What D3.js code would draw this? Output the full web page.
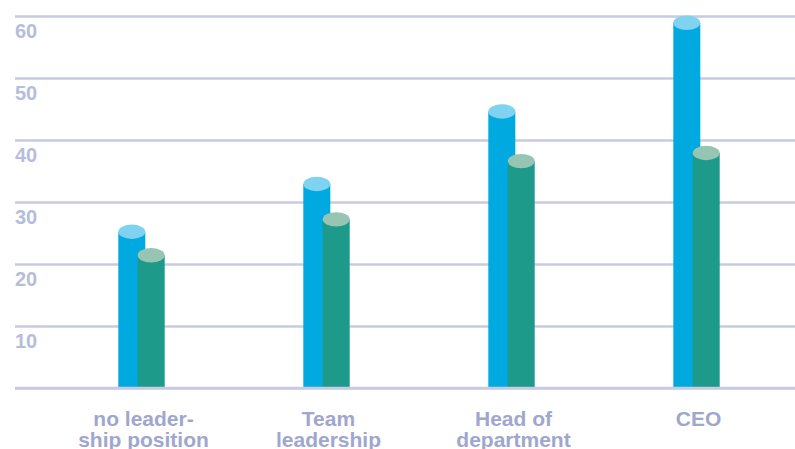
<!DOCTYPE html>
<html>
<head>
<meta charset="utf-8">
<script src="https://cdn.jsdelivr.net/npm/d3@7"></script>
<style>
  html, body { margin: 0; padding: 0; background: #fff; }
  svg { display: block; }
</style>
</head>
<body>
<svg id="chart" width="795" height="449"></svg>
<script>
// Leadership level categories (label lines)
const categories = ["no leadership position", "Team leadership", "Head of department", "CEO"];
const categoryLines = [["no leader-", "ship position"], ["Team", "leadership"], ["Head of", "department"], ["CEO"]];
// Two series per category
const seriesA = [25.2, 32.9, 44.6, 58.9];
const seriesB = [21.4, 27.2, 36.6, 37.9];
const tickValues = [0, 10, 20, 30, 40, 50, 60];
const tickLabels = ["", "10", "20", "30", "40", "50", "60"];

const svg = d3.select("#chart");
const W = 795, H = 449;

const y = d3.scaleLinear().domain([0, 60]).range([388, 16]);
const x = d3.scalePoint().domain(categories).range([141.5, 696.5]);

const colA = "#00aae1", topA = "#80d3f0";
const colB = "#1d9a89", topB = "#97c5b4";
const gridCol = "#c7cae3";
const tickCol = "#b5bddc";
const labelCol = "#a0a6ce";

const barW = 27, rx = 13.5, ry = 7.2, shift = 19.4;

// Horizontal grid lines
const yAxis = d3.axisRight(y).tickValues(tickValues).tickSize(W - 15).tickFormat((d, i) => tickLabels[i]);
const gAxis = svg.append("g").attr("transform", "translate(15,0)").call(yAxis);
gAxis.select(".domain").remove();
gAxis.selectAll(".tick line").attr("stroke", gridCol).attr("stroke-width", 2.5);
gAxis.selectAll(".tick text")
  .attr("x", 0).attr("dy", 21.5)
  .attr("text-anchor", "start")
  .attr("fill", tickCol)
  .style("font-family", "'Liberation Sans', Arial, sans-serif")
  .style("font-weight", "bold")
  .style("font-size", "20px");

// Cylinder-style bars
function cylinder(g, cx, v, body, top) {
  const yt = y(v);
  g.append("rect")
    .attr("x", cx - rx).attr("y", yt)
    .attr("width", barW).attr("height", y(0) - yt)
    .attr("fill", body);
  g.append("ellipse")
    .attr("cx", cx).attr("cy", yt)
    .attr("rx", rx).attr("ry", ry)
    .attr("fill", top);
}

const bars = svg.append("g");
categories.forEach((c, i) => {
  const left = x(c) - (shift + barW) / 2;
  cylinder(bars, left + rx, seriesA[i], colA, topA);
  cylinder(bars, left + shift + rx, seriesB[i], colB, topB);
});

// Zero baseline on top of bar bottoms
svg.append("line")
  .attr("x1", 15).attr("x2", W)
  .attr("y1", y(0)).attr("y2", y(0))
  .attr("stroke", gridCol).attr("stroke-width", 2.5);

// Category labels
const labels = svg.append("g");
categories.forEach((c, i) => {
  const t = labels.append("text")
    .attr("x", x(c) + 2).attr("y", 426)
    .attr("text-anchor", "middle")
    .attr("fill", labelCol)
    .style("font-family", "'Liberation Sans', Arial, sans-serif")
    .style("font-weight", "bold")
    .style("font-size", "21px");
  categoryLines[i].forEach((line, j) => {
    t.append("tspan").attr("x", x(c) + 2).attr("dy", j === 0 ? 0 : 21).text(line);
  });
});
</script>
</body>
</html>
